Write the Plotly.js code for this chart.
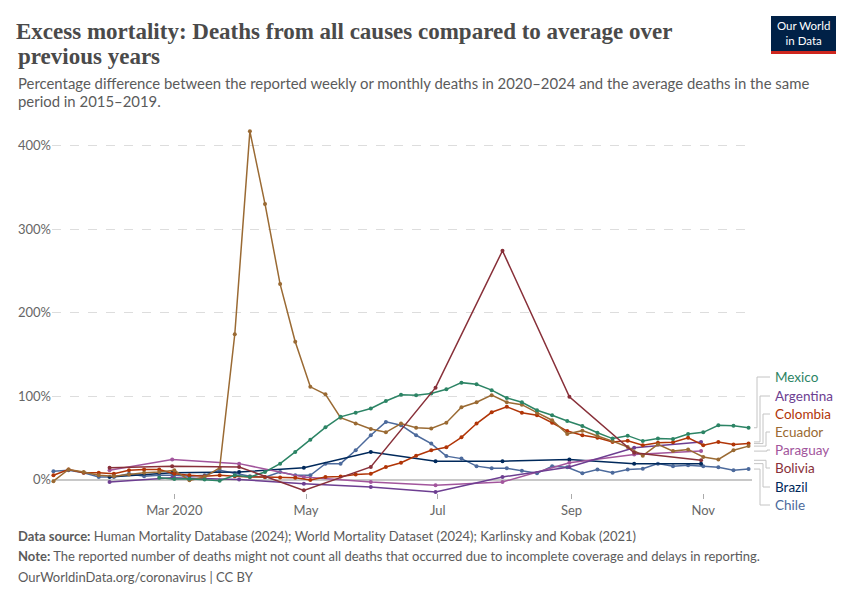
<!DOCTYPE html>
<html>
<head>
<meta charset="utf-8">
<script src="https://cdn.plot.ly/plotly-3.0.1.min.js"></script>
<style>
  html, body { margin: 0; padding: 0; background: #fff; }
  #chart { width: 850px; height: 600px; }
</style>
</head>
<body>
<div id="chart"></div>
<script>
// ---------- DATA ----------
const weekDates = ['2020-01-05','2020-01-12','2020-01-19','2020-01-26','2020-02-02','2020-02-09','2020-02-16','2020-02-23',
  '2020-03-01','2020-03-08','2020-03-15','2020-03-22','2020-03-29','2020-04-05','2020-04-12','2020-04-19','2020-04-26',
  '2020-05-03','2020-05-10','2020-05-17','2020-05-24','2020-05-31','2020-06-07','2020-06-14','2020-06-21','2020-06-28',
  '2020-07-05','2020-07-12','2020-07-19','2020-07-26','2020-08-02','2020-08-09','2020-08-16','2020-08-23','2020-08-30',
  '2020-09-06','2020-09-13','2020-09-20','2020-09-27','2020-10-04','2020-10-11','2020-10-18','2020-10-25',
  '2020-11-01','2020-11-08','2020-11-15','2020-11-22'];
const mexicoDates = ['2020-02-23',
  '2020-03-01','2020-03-08','2020-03-15','2020-03-22','2020-03-29','2020-04-05','2020-04-12','2020-04-19','2020-04-26',
  '2020-05-03','2020-05-10','2020-05-17','2020-05-24','2020-05-31','2020-06-07','2020-06-14','2020-06-21','2020-06-28',
  '2020-07-05','2020-07-12','2020-07-19','2020-07-26','2020-08-02','2020-08-09','2020-08-16','2020-08-23','2020-08-30',
  '2020-09-06','2020-09-13','2020-09-20','2020-09-27','2020-10-04','2020-10-11','2020-10-18','2020-10-25',
  '2020-11-01','2020-11-08','2020-11-15','2020-11-22'];
const monthDates = ['2020-01-31','2020-02-29','2020-03-31','2020-04-30','2020-05-31','2020-06-30',
  '2020-07-31','2020-08-31','2020-09-30','2020-10-31'];

const mexico = [2, 0.5,1,0,-1.5,5, 3,9,19,33, 47.5,62.5,75,80,85, 94,101.5,101,103, 108,116,114,107,
  97.6,92.5,83,77,70, 64,56,49,52.5, 46,49,48.5,54.5, 56.5,65,64.5,62];
const colombia = [5,12,8,8, 7,11,12,12, 7,5,4,5,4, 3,3,2.5,2, -0.5,3,3.5,6,7, 15,20,28.5,35,
  38.5,50.5,67,80.5, 87,80,77,68,58, 53,50,45,46.5, 41,44,44.5,50, 41,45,42,43];
const ecuador = [-2,12,9,5, 4,6,8,9, 11,-1,3,14,174, 417,330,234,165, 111,102,74,67,60.5, 56.5,67,62,61,
  68,86.5,92.5,101, 92.5,89.6,80,71,54.5, 58.5,52,46,39, 28.5,42,34,36, 27,24,35,40];
const chile = [10,11,8,3, 3,7,4,5, 5,4,5,11,7.4, 4,2.6,9,5, 5,19,19,35,53, 69,65,53,43,
  28,25,16,13.4, 13.4,10.5,7.4,16,14.6, 7.4,12,8,12, 13,19,16,17, 16,14.6,11,12.5];
const argentina = [-3, 2, 0, -5, -9, -15, 3, 15, 38, 45];
const paraguay  = [11, 24, 19, 3, -3, -7, -3, 20, 30, 34];
const bolivia   = [14, 16, 15, -13, 15, 110, 274, 99, 32, 23];
const brazil    = [3, 8, 9, 14, 33, 22, 22, 24, 19, 19];

const xTickVals = ['2020-03-01','2020-05-01','2020-07-01','2020-09-01','2020-11-01'];
const xTickText = ['Mar 2020','May','Jul','Sep','Nov'];
const yTickVals = [0, 100, 200, 300, 400];
const yTickText = ['0%','100%','200%','300%','400%'];

// ---------- STYLE ----------
const colors = {
  Mexico: '#2C8465', Argentina: '#6D3E91', Colombia: '#B13507', Ecuador: '#9A6A33',
  Paraguay: '#A2559C', Bolivia: '#883039', Brazil: '#00295B', Chile: '#4C6A9C'
};
const series = [
  {name:'Chile', x: weekDates, y: chile},
  {name:'Brazil', x: monthDates, y: brazil},
  {name:'Paraguay', x: monthDates, y: paraguay},
  {name:'Argentina', x: monthDates, y: argentina},
  {name:'Colombia', x: weekDates, y: colombia},
  {name:'Ecuador', x: weekDates, y: ecuador},
  {name:'Mexico', x: mexicoDates, y: mexico},
  {name:'Bolivia', x: monthDates, y: bolivia}
];

const L = 52, R = 752, T = 125, B = 493;
const yRange = [-16.17, 424.55];
const px = x => (x - L) / (R - L);
const py = y => (B - y) / (B - T);
const vy = v => (v - yRange[0]) / (yRange[1] - yRange[0]);

const traces = series.map(s => ({
  type: 'scatter', mode: 'lines+markers', name: s.name, x: s.x, y: s.y,
  line: {color: colors[s.name], width: 1.5},
  marker: {color: colors[s.name], size: 4},
  hoverinfo: 'skip', showlegend: false, cliponaxis: false
}));

// labels on the right
const labelOrder = [
  {name:'Mexico', ly:377, vx:757},
  {name:'Argentina', ly:396, vx:760},
  {name:'Colombia', ly:414, vx:763},
  {name:'Ecuador', ly:432, vx:766},
  {name:'Paraguay', ly:450, vx:767},
  {name:'Bolivia', ly:468, vx:766},
  {name:'Brazil', ly:487, vx:763},
  {name:'Chile', ly:505, vx:760}
];
const shapes = [];
const annotations = [];
labelOrder.forEach(o => {
  const s = series.find(d => d.name === o.name);
  const last = s.y[s.y.length - 1];
  const y0 = vy(last);
  const y1 = py(o.ly);
  shapes.push({
    type: 'path', xref: 'paper', yref: 'paper',
    path: `M ${px(754)} ${y0} L ${px(o.vx)} ${y0} L ${px(o.vx)} ${y1} L ${px(770)} ${y1}`,
    line: {color: '#c4c4c4', width: 1}
  });
  annotations.push({
    xref: 'paper', yref: 'paper', x: px(773), y: y1, xanchor: 'left', yanchor: 'middle',
    text: o.name, showarrow: false,
    font: {family: 'Lato', size: 13.5, color: colors[o.name]}
  });
});

// header & footer
const txt = (x, y, text, size, color, family) => ({
  xref: 'paper', yref: 'paper', x: px(x), y: py(y), xanchor: 'left', yanchor: 'middle',
  text: text, showarrow: false, align: 'left',
  font: {family: family || 'Lato', size: size, color: color}
});
annotations.push(txt(16, 56, '<b>previous years</b>', 23, '#4a4a4a', 'Liberation Serif'));
annotations.push(txt(16, 83, 'Percentage difference between the reported weekly or monthly deaths in 2020–2024 and the average deaths in the same', 14.9, '#5b5b5b'));
annotations.push(txt(16, 101, 'period in 2015–2019.', 14.9, '#5b5b5b'));
annotations.push(txt(16, 536, '<b>Data source:</b> Human Mortality Database (2024); World Mortality Dataset (2024); Karlinsky and Kobak (2021)', 13, '#5b5b5b'));
annotations.push(txt(16, 556, '<b>Note:</b> The reported number of deaths might not count all deaths that occurred due to incomplete coverage and delays in reporting.', 13, '#5b5b5b'));
annotations.push(txt(16, 577, 'OurWorldinData.org/coronavirus | CC BY', 13, '#5b5b5b'));

// logo
shapes.push({type:'rect', xref:'paper', yref:'paper', x0: px(771), x1: px(836), y0: py(52), y1: py(16),
  fillcolor:'#002147', line:{width:0}});
shapes.push({type:'rect', xref:'paper', yref:'paper', x0: px(771), x1: px(836), y0: py(54), y1: py(51),
  fillcolor:'#ce261e', line:{width:0}});
annotations.push({xref:'paper', yref:'paper', x: px(803.5), y: py(33.5), xanchor:'center', yanchor:'middle',
  text:'Our World<br>in Data', showarrow:false, align:'center',
  font:{family:'Lato', size:11.5, color:'#ffffff'}});

const layout = {
  width: 850, height: 600,
  margin: {l: L, r: 850 - R, t: T, b: 600 - B},
  paper_bgcolor: '#fff', plot_bgcolor: '#fff',
  title: {
    text: '<b>Excess mortality: Deaths from all causes compared to average over</b>',
    font: {family: 'Liberation Serif', size: 23, color: '#4a4a4a'},
    xref: 'container', x: 16 / 850, xanchor: 'left',
    yref: 'container', y: 1 - 31 / 600, yanchor: 'middle', pad: {l: 0, r: 0, t: 0, b: 0}
  },
  xaxis: {
    type: 'date', range: ['2020-01-04 08:00', '2020-11-23 14:00'],
    tickvals: xTickVals, ticktext: xTickText,
    showgrid: false, zeroline: false, showline: false,
    ticks: 'outside', ticklen: 5, tickcolor: '#aaaaaa',
    tickfont: {family: 'Lato', size: 13, color: '#666666'}, fixedrange: true
  },
  yaxis: {
    range: yRange, tickvals: yTickVals, ticktext: yTickText,
    showgrid: true, gridcolor: '#dddddd', griddash: 'dash', gridwidth: 1,
    zeroline: true, zerolinecolor: '#c8c8c8', zerolinewidth: 2,
    showline: false, ticks: '',
    tickfont: {family: 'Lato', size: 13, color: '#666666'}, fixedrange: true
  },
  shapes: shapes,
  annotations: annotations,
  showlegend: false
};

Plotly.newPlot('chart', traces, layout, {displayModeBar: false, staticPlot: true});
</script>
</body>
</html>
